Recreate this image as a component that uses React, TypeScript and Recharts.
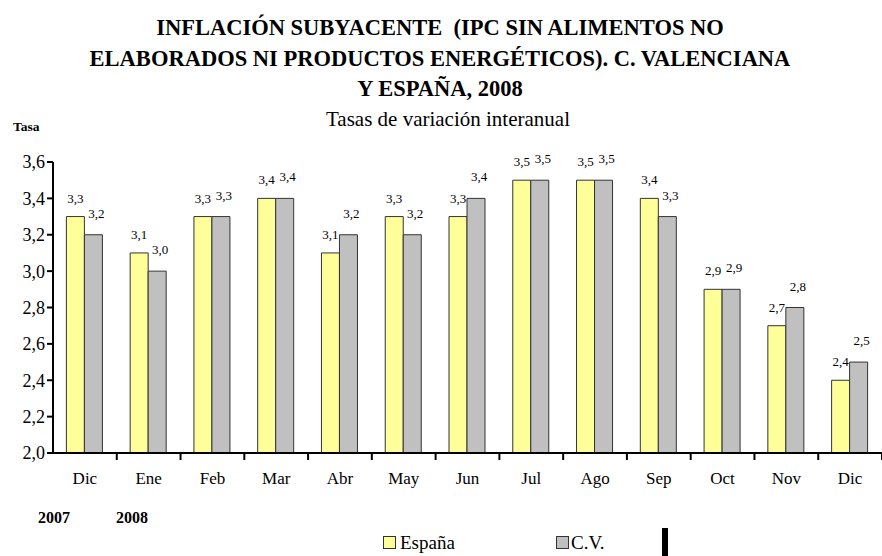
import React from 'react';
import { BarChart, Bar, XAxis, YAxis, LabelList } from 'recharts';

const months = ['Dic', 'Ene', 'Feb', 'Mar', 'Abr', 'May', 'Jun', 'Jul', 'Ago', 'Sep', 'Oct', 'Nov', 'Dic'];
const espana = [3.3, 3.1, 3.3, 3.4, 3.1, 3.3, 3.3, 3.5, 3.5, 3.4, 2.9, 2.7, 2.4];
const cv = [3.2, 3.0, 3.3, 3.4, 3.2, 3.2, 3.4, 3.5, 3.5, 3.3, 2.9, 2.8, 2.5];
const yTicks = [2.0, 2.2, 2.4, 2.6, 2.8, 3.0, 3.2, 3.4, 3.6];
const titleLines = [
  'INFLACIÓN SUBYACENTE  (IPC SIN ALIMENTOS NO',
  'ELABORADOS NI PRODUCTOS ENERGÉTICOS). C. VALENCIANA',
  'Y ESPAÑA, 2008',
];

const data = months.map((m, i) => ({ mes: m, espana: espana[i], cv: cv[i] }));

const FONT = 'Liberation Serif';
const W = 882;
const H = 556;
const LEFT = 53;
const RIGHT = 0;
const band = (W - LEFT - RIGHT) / months.length;

const fmt = (v: number) => v.toFixed(1).replace('.', ',');

const XTick = (props: any) => {
  const { x, y, payload } = props;
  return (
    <g>
      <line x1={x + band / 2} x2={x + band / 2} y1={y - 9} y2={y - 1} stroke="#000" strokeWidth={2} />
      <text x={x} y={y + 23} textAnchor="middle" fontFamily={FONT} fontSize={17} fill="#000">
        {payload.value}
      </text>
    </g>
  );
};

const labelStyle = { fontFamily: FONT, fontSize: 13, fill: '#000' };

const App: React.FC = () => {
  return (
    <div style={{ position: 'absolute', left: 0, top: 0, width: W, height: H, background: '#fff' }}>
      <BarChart
        width={W}
        height={H}
        data={data}
        margin={{ top: 162, right: RIGHT, left: 3, bottom: 73 }}
        barCategoryGap="21%"
        barGap={0}
      >
        <XAxis
          dataKey="mes"
          axisLine={{ stroke: '#000', strokeWidth: 2 }}
          tickLine={false}
          tick={<XTick />}
          height={30}
          interval={0}
        />
        <YAxis
          domain={[2.0, 3.6]}
          ticks={yTicks}
          tickFormatter={fmt}
          width={50}
          axisLine={{ stroke: '#000', strokeWidth: 2 }}
          tickLine={{ stroke: '#000', strokeWidth: 2 }}
          tickSize={6}
          tick={{ fill: '#000', fontFamily: FONT, fontSize: 18 }}
          allowDataOverflow
        />
        <Bar dataKey="espana" fill="#FFFF99" stroke="#333" strokeWidth={1} isAnimationActive={false}>
          <LabelList dataKey="espana" position="top" offset={14} formatter={(v: any) => fmt(Number(v))} style={labelStyle} />
        </Bar>
        <Bar dataKey="cv" fill="#C0C0C0" stroke="#333" strokeWidth={1} isAnimationActive={false}>
          <LabelList dataKey="cv" position="top" offset={17} dx={3} formatter={(v: any) => fmt(Number(v))} style={labelStyle} />
        </Bar>
      </BarChart>
      <svg width={W} height={H} style={{ position: 'absolute', left: 0, top: 0, pointerEvents: 'none' }}>
        {titleLines.map((t, i) => (
          <text
            key={i}
            x={440}
            y={35 + i * 30.5}
            textAnchor="middle"
            fontFamily={FONT}
            fontWeight="bold"
            fontSize={22.5}
            style={{ whiteSpace: 'pre' }}
          >
            {t}
          </text>
        ))}
        <text x={448} y={126} textAnchor="middle" fontFamily={FONT} fontSize={21}>
          Tasas de variación interanual
        </text>
        <text x={13} y={131} fontFamily={FONT} fontWeight="bold" fontSize={13.5}>
          Tasa
        </text>
        <text x={38} y={523} fontFamily={FONT} fontWeight="bold" fontSize={16}>
          2007
        </text>
        <text x={116} y={523} fontFamily={FONT} fontWeight="bold" fontSize={16}>
          2008
        </text>
        <rect x={383.5} y={536.5} width={12} height={12} fill="#FFFF99" stroke="#333" />
        <text x={400} y={549} fontFamily={FONT} fontSize={19}>
          España
        </text>
        <rect x={556.5} y={536.5} width={12} height={12} fill="#C0C0C0" stroke="#333" />
        <text x={571} y={549} fontFamily={FONT} fontSize={19}>
          C.V.
        </text>
        <rect x={662} y={528} width={6} height={28} fill="#000" />
      </svg>
    </div>
  );
};

export default App;
